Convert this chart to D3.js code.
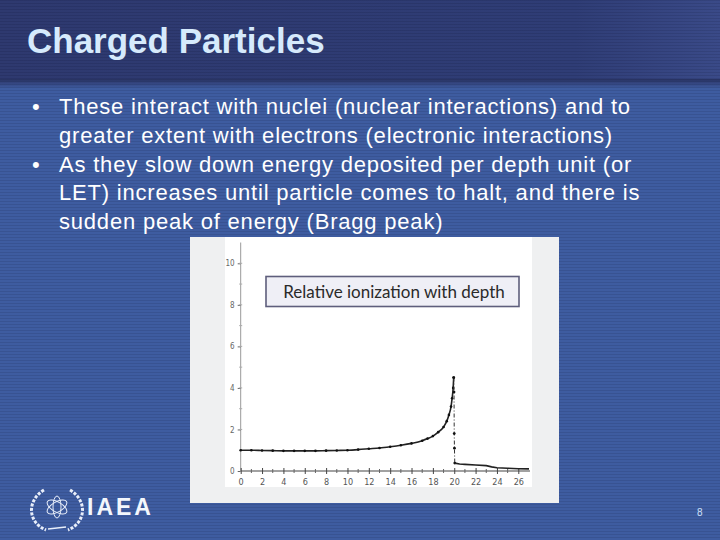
<!DOCTYPE html>
<html><head><meta charset="utf-8">
<script src="https://cdn.jsdelivr.net/npm/d3@7"></script>
<style>html,body{margin:0;padding:0;background:#3e5c9f;}svg{display:block}</style>
</head><body><svg id="s" width="720" height="540"></svg>
<script>
// ---- data ----
const title = "Charged Particles";
const bulletLines = [
  {bullet:true,  text:"These interact with nuclei (nuclear interactions) and to"},
  {bullet:false, text:"greater extent with electrons (electronic interactions)"},
  {bullet:true,  text:"As they slow down energy deposited per depth unit (or"},
  {bullet:false, text:"LET) increases until particle comes to halt, and there is"},
  {bullet:false, text:"sudden peak of energy (Bragg peak)"}
];
const chartLabel = "Relative ionization with depth";
const depth =      [0,1,2,3,4,5,6,7,8,9,10,11,12,13,14,15,16,17,17.5,18,18.5,19,19.3,19.5,19.7,19.8,19.9,19.95];
const ionization = [1.0,1.0,0.99,0.98,0.97,0.97,0.97,0.97,0.98,0.99,1.0,1.03,1.07,1.11,1.17,1.24,1.33,1.46,1.56,1.68,1.87,2.12,2.4,2.7,3.1,3.5,4.0,4.5];
const dropDepth =  [19.95,19.98,20.0,20.02,20.05];
const dropIon =    [4.5,3.8,1.8,1.1,0.38];
const tailDepth =  [20.05,20.5,21,22,23,23.5,24,25,26,27];
const tailIon =    [0.38,0.34,0.32,0.29,0.26,0.2,0.16,0.13,0.11,0.1];
const xTicks = [0,2,4,6,8,10,12,14,16,18,20,22,24,26];
const yTicks = [0,2,4,6,8,10];
const pageNumber = "8";
const logoText = "IAEA";

const svg = d3.select("#s");
const defs = svg.append("defs");
const pat = defs.append("pattern").attr("id","stripes").attr("width",4).attr("height",3).attr("patternUnits","userSpaceOnUse");
pat.append("rect").attr("width",4).attr("height",1).attr("fill","rgba(0,0,20,0.10)");
const tg = defs.append("linearGradient").attr("id","tbar").attr("x1",0).attr("x2",1).attr("y1",0).attr("y2",0);
tg.append("stop").attr("offset","0").attr("stop-color","#2e396f");
tg.append("stop").attr("offset","0.8").attr("stop-color","#2f3d76");
tg.append("stop").attr("offset","1").attr("stop-color","#3a4a88");
const sep = defs.append("linearGradient").attr("id","sep").attr("x1",0).attr("x2",0).attr("y1",0).attr("y2",1);
sep.append("stop").attr("offset","0").attr("stop-color","#27315f");
sep.append("stop").attr("offset","0.4").attr("stop-color","#34457f");
sep.append("stop").attr("offset","1").attr("stop-color","#3f5ea3");

svg.append("rect").attr("width",720).attr("height",540).attr("fill","#3e5ca0");
svg.append("rect").attr("width",720).attr("height",80).attr("fill","url(#tbar)");
svg.append("rect").attr("y",79).attr("width",720).attr("height",10).attr("fill","url(#sep)");
svg.append("rect").attr("width",720).attr("height",540).attr("fill","url(#stripes)");

svg.append("text").attr("x",27).attr("y",53).text(title)
  .attr("font-family","Liberation Sans, Arial, sans-serif").attr("font-weight","bold")
  .attr("font-size",35).attr("fill","#d6eafc");

const bodyG = svg.append("g").attr("font-family","Liberation Sans, Arial, sans-serif").attr("font-size",22).attr("fill","#ffffff");
bulletLines.forEach((l,i)=>{
  const y = 114 + i*28.8;
  if(l.bullet) bodyG.append("text").attr("x",32).attr("y",y).text("•");
  bodyG.append("text").attr("x",59).attr("y",y).attr("letter-spacing",0.8).text(l.text);
});

svg.append("rect").attr("x",190).attr("y",237).attr("width",369).attr("height",266).attr("fill","#eff0f1");
svg.append("rect").attr("x",225).attr("y",237).attr("width",307).attr("height",250).attr("fill","#ffffff");

const x = d3.scaleLinear().domain([0,26]).range([240.7,518.3]);
const y = d3.scaleLinear().domain([0,10]).range([471,263.3]);
const xMax = 27.1, yMax = 11;

const axG = svg.append("g").attr("stroke","#444").attr("fill","none");
axG.append("line").attr("x1",x(0)).attr("x2",x(xMax)).attr("y1",y(0)).attr("y2",y(0)).attr("stroke-width",1.2);
axG.append("line").attr("x1",x(0)).attr("x2",x(0)).attr("y1",y(0)).attr("y2",y(yMax)).attr("stroke","#999").attr("stroke-width",1);

const xAxis = d3.axisBottom(x).tickValues(xTicks).tickSize(3).tickFormat(d3.format("d"));
const gx = svg.append("g").attr("transform",`translate(0,${y(0)})`).call(xAxis);
gx.select(".domain").remove();
gx.selectAll(".tick line").attr("stroke","#444").attr("y1",-3);
gx.selectAll(".tick text").attr("fill","#555").attr("font-family","DejaVu Sans Condensed, Liberation Sans Narrow, sans-serif").attr("font-size",9).attr("dy","0.9em");
svg.append("g").selectAll("line").data(d3.range(1,27,2)).join("line")
  .attr("x1",d=>x(d)).attr("x2",d=>x(d)).attr("y1",y(0)-2).attr("y2",y(0)+2).attr("stroke","#666");

const yAxis = d3.axisLeft(y).tickValues(yTicks).tickSize(3).tickFormat(d3.format("d"));
const gy = svg.append("g").attr("transform",`translate(${x(0)},0)`).call(yAxis);
gy.select(".domain").remove();
gy.selectAll(".tick line").attr("stroke","#666");
gy.selectAll(".tick text").attr("fill","#666").attr("font-family","DejaVu Sans Condensed, Liberation Sans Narrow, sans-serif").attr("font-size",8);
svg.append("g").selectAll("line").data(d3.range(1,11,1)).join("line")
  .attr("x1",x(0)-1.5).attr("x2",x(0)+1.5).attr("y1",d=>y(d)).attr("y2",d=>y(d)).attr("stroke","#aaa");

const line = d3.line().x(d=>x(d[0])).y(d=>y(d[1])).curve(d3.curveMonotoneX);
const main = depth.map((d,i)=>[d,ionization[i]]);
svg.append("path").datum(main).attr("d",line).attr("fill","none").attr("stroke","#222").attr("stroke-width",1.6);
svg.append("g").selectAll("circle").data(main).join("circle")
  .attr("cx",d=>x(d[0])).attr("cy",d=>y(d[1])).attr("r",1.3).attr("fill","#111");
const drop = dropDepth.map((d,i)=>[d,dropIon[i]]);
svg.append("path").datum(drop).attr("d",d3.line().x(d=>x(d[0])).y(d=>y(d[1])))
  .attr("fill","none").attr("stroke","#333").attr("stroke-width",1).attr("stroke-dasharray","4,2,1,2");
svg.append("g").selectAll("circle").data(drop).join("circle")
  .attr("cx",d=>x(d[0])).attr("cy",d=>y(d[1])).attr("r",1.4).attr("fill","#111");
const tail = tailDepth.map((d,i)=>[d,tailIon[i]]);
svg.append("path").datum(tail).attr("d",d3.line().x(d=>x(d[0])).y(d=>y(d[1])))
  .attr("fill","none").attr("stroke","#222").attr("stroke-width",1.6);

svg.append("rect").attr("x",266).attr("y",276.5).attr("width",253).attr("height",30)
  .attr("fill","#efeff6").attr("stroke","#5e5e7c").attr("stroke-width",1.6);
svg.append("text").attr("x",394).attr("y",297.5).attr("text-anchor","middle").text(chartLabel)
  .attr("font-family","Lato, Open Sans, sans-serif").attr("font-size",17).attr("fill","#2a2a2a");

const lg = svg.append("g").attr("stroke","#e8eefa").attr("fill","none");
lg.append("path").attr("d","M44,490 C27,500 27,522 46,530").attr("stroke-width",3).attr("stroke-dasharray","3,1.5");
lg.append("path").attr("d","M70,490 C87,500 87,522 68,530").attr("stroke-width",3).attr("stroke-dasharray","3,1.5");
lg.append("ellipse").attr("cx",57).attr("cy",507).attr("rx",11).attr("ry",5).attr("stroke-width",1).attr("transform","rotate(-30,57,507)");
lg.append("ellipse").attr("cx",57).attr("cy",507).attr("rx",11).attr("ry",5).attr("stroke-width",1).attr("transform","rotate(30,57,507)");
lg.append("ellipse").attr("cx",57).attr("cy",507).attr("rx",4).attr("ry",11).attr("stroke-width",1);
lg.append("path").attr("d","M48,529 L66,527").attr("stroke-width",1.5);
svg.append("text").attr("x",87).attr("y",515).text(logoText)
  .attr("font-family","Liberation Sans, Arial, sans-serif").attr("font-weight","bold").attr("font-size",23)
  .attr("letter-spacing",3).attr("fill","#f4f7fc");

svg.append("text").attr("x",697).attr("y",516).text(pageNumber)
  .attr("font-family","Liberation Sans, Arial, sans-serif").attr("font-size",10).attr("fill","#cfe0f8");
</script></body></html>
